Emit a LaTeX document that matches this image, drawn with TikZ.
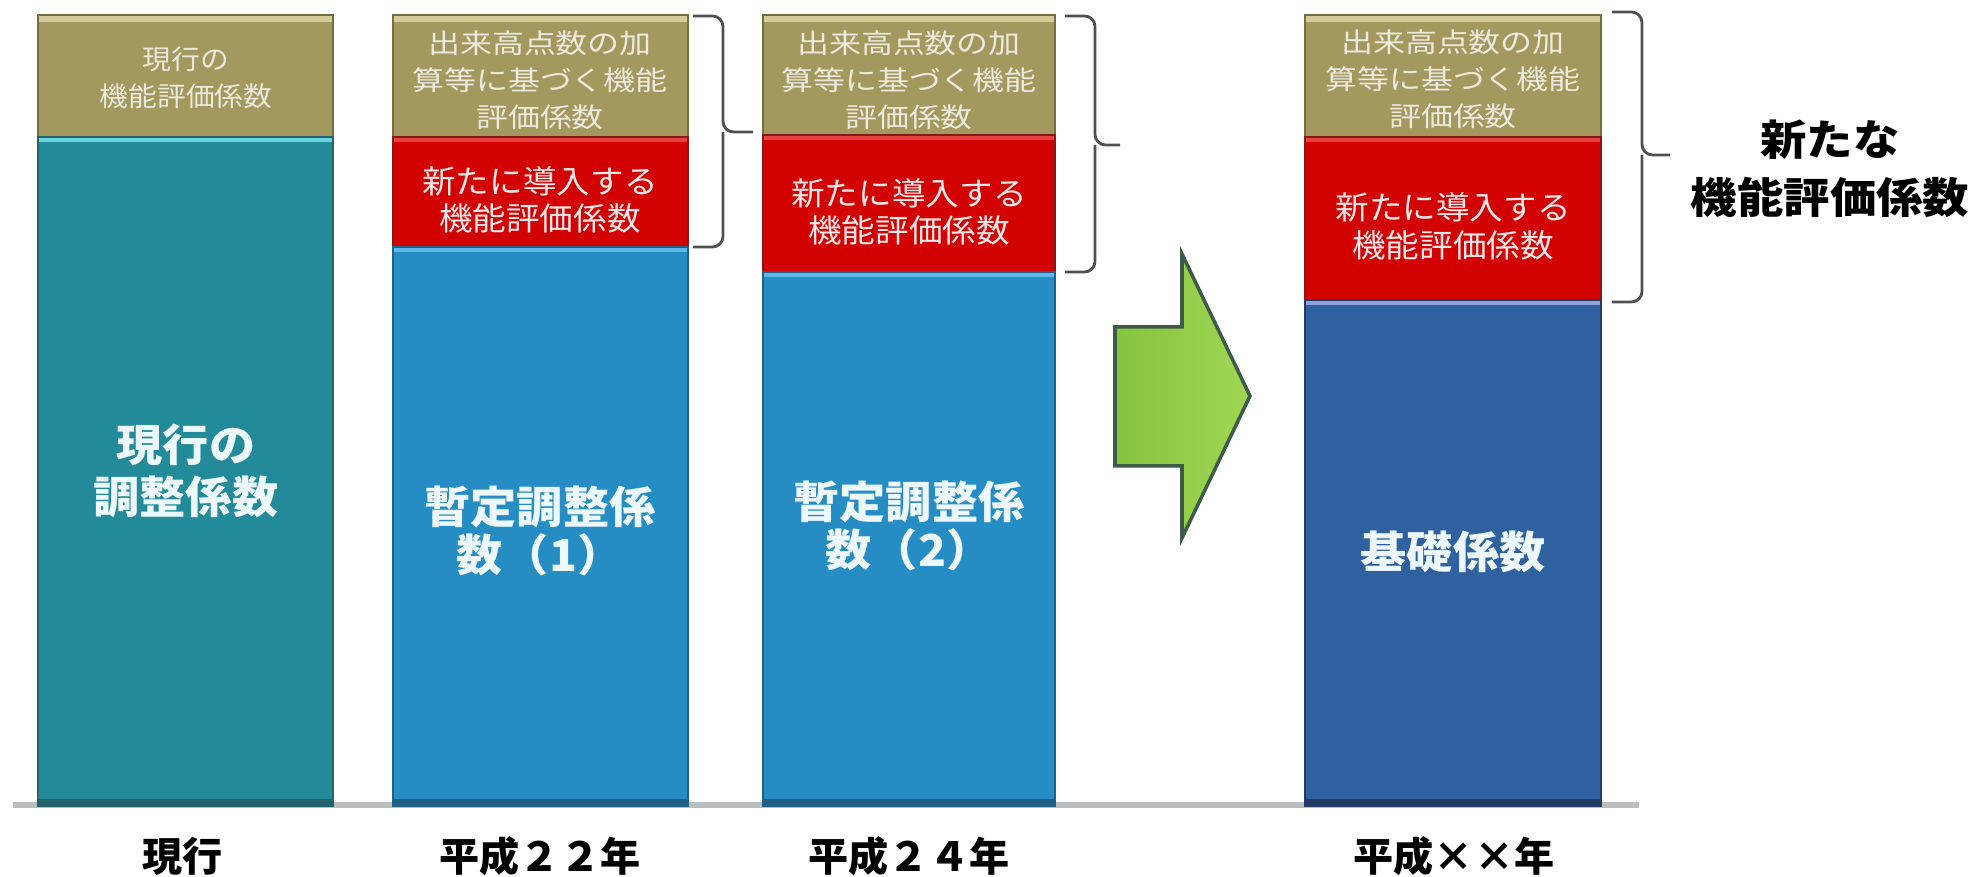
\documentclass[tikz,border=0pt]{standalone}
\usepackage{fontspec}
\setmainfont{Noto Sans CJK JP}
\usetikzlibrary{positioning}
\definecolor{goldbar}{RGB}{163,152,94}
\definecolor{goldtop}{RGB}{212,204,152}
\definecolor{golddark}{RGB}{120,110,68}
\definecolor{tealbar}{RGB}{34,138,152}
\definecolor{tealtop}{RGB}{104,212,222}
\definecolor{tealdark}{RGB}{36,98,108}
\definecolor{bluebar}{RGB}{38,140,196}
\definecolor{bluetop}{RGB}{96,184,232}
\definecolor{bluedark}{RGB}{34,96,136}
\definecolor{navybar}{RGB}{47,96,160}
\definecolor{navytop}{RGB}{146,162,222}
\definecolor{navydark}{RGB}{36,60,100}
\definecolor{redbar}{RGB}{210,2,2}
\definecolor{redtop}{RGB}{228,66,60}
\definecolor{reddark}{RGB}{138,22,28}
\definecolor{goldtext}{RGB}{236,233,222}
\definecolor{redtext}{RGB}{250,232,232}
\definecolor{bigtext}{RGB}{236,248,252}
\definecolor{arrowgreen}{RGB}{134,196,62}
\definecolor{arrowlight}{RGB}{160,214,84}
\definecolor{arrowedge}{RGB}{62,90,72}
\definecolor{basegray}{RGB}{186,190,192}
\definecolor{bracegray}{RGB}{80,80,80}

\begin{document}
\begin{tikzpicture}[x=0.01cm, y=-0.01cm,
  goldsec/.style={fill=goldbar, draw=golddark, line width=0.8pt},
  redsec/.style={fill=redbar, draw=reddark, line width=0.8pt},
  tealsec/.style={fill=tealbar, draw=tealdark, line width=0.8pt},
  bluesec/.style={fill=bluebar, draw=bluedark, line width=0.8pt},
  navysec/.style={fill=navybar, draw=navydark, line width=0.8pt},
  goldtxt/.style={font=\fontsize{7.7}{10.5}\selectfont, text=goldtext, align=center, inner sep=0pt, xscale=1.18},
  redtxt/.style={font=\fontsize{9.1}{10.6}\selectfont, text=redtext, align=center, inner sep=0pt, xscale=1.05},
  bigtxt/.style={font=\fontsize{12.5}{13.4}\selectfont\bfseries, text=bigtext, align=center, inner sep=0pt, xscale=1.05},
  yearlbl/.style={font=\fontsize{11.4}{13}\selectfont\bfseries, inner sep=0pt},
  bracket/.style={draw=bracegray, line width=0.8pt, rounded corners=3pt}]
  \useasboundingbox (0,0) rectangle (1974,877);
  \fill[basegray] (13,802) rectangle (1639,808);
  % current
  \filldraw[goldsec] (38,15) rectangle (333,137);
  \fill[goldtop] (39,16) rectangle (332,22);
  \filldraw[tealsec] (38,137) rectangle (333,806);
  \fill[tealtop] (39,138) rectangle (332,142);
  \fill[tealdark] (39,799) rectangle (332,806);
  \node[goldtxt, xscale=0.9] (curgold) at (186,78) {現行の\\機能評価係数};
  \node[bigtxt, font=\fontsize{12.5}{15}\selectfont\bfseries] (curadj) at (186,471) {現行の\\調整係数};
  % H22
  \filldraw[goldsec] (393,15) rectangle (688,137);
  \fill[goldtop] (394,16) rectangle (687,22);
  \filldraw[redsec] (393,137) rectangle (688,247);
  \fill[redtop] (394,138) rectangle (687,142);
  \filldraw[bluesec] (393,247) rectangle (688,806);
  \fill[bluetop] (394,248) rectangle (687,252);
  \fill[bluedark] (394,799) rectangle (687,806);
  \node[goldtxt] (hgold) at (540,80) {出来高点数の加\\算等に基づく機能\\評価係数};
  \node[redtxt] (hnew) at (540,200) {新たに導入する\\機能評価係数};
  \node[bigtxt] (htmp) at (540,531) {暫定調整係\\数（1）};
  \draw[bracket] (693,16) -| (723,132) -- (753,132);
  \draw[bracket] (723,132) |- (693,247);
  % H24
  \filldraw[goldsec] (763,15) rectangle (1055,135);
  \fill[goldtop] (764,16) rectangle (1054,22);
  \filldraw[redsec] (763,135) rectangle (1055,272);
  \fill[redtop] (764,136) rectangle (1054,140);
  \filldraw[bluesec] (763,272) rectangle (1055,806);
  \fill[bluetop] (764,273) rectangle (1054,277);
  \fill[bluedark] (764,799) rectangle (1054,806);
  \node[goldtxt] (kgold) at (909,80) {出来高点数の加\\算等に基づく機能\\評価係数};
  \node[redtxt] (knew) at (909,212) {新たに導入する\\機能評価係数};
  \node[bigtxt] (ktmp) at (909,526) {暫定調整係\\数（2）};
  \draw[bracket] (1065,16) -| (1095,145) -- (1120,145);
  \draw[bracket] (1095,145) |- (1065,272);
  % arrow
  \draw[left color=arrowgreen, right color=arrowlight, draw=arrowedge, line width=1pt]
    (1115,327) -- (1182,327) -- (1182,254) -- (1250,396) -- (1182,538) -- (1182,466) -- (1115,466) -- cycle;
  % future
  \filldraw[goldsec] (1305,15) rectangle (1601,137);
  \fill[goldtop] (1306,16) rectangle (1600,22);
  \filldraw[redsec] (1305,137) rectangle (1601,300);
  \fill[redtop] (1306,138) rectangle (1600,142);
  \filldraw[navysec] (1305,300) rectangle (1601,806);
  \fill[navytop] (1306,301) rectangle (1600,305);
  \fill[navydark] (1306,799) rectangle (1600,806);
  \node[goldtxt] (fgold) at (1453,79) {出来高点数の加\\算等に基づく機能\\評価係数};
  \node[redtxt, font=\fontsize{9.1}{10.8}\selectfont] (fnew) at (1453,226) {新たに導入する\\機能評価係数};
  \node[bigtxt] (fbase) at (1453,552) {基礎係数};
  \draw[bracket] (1612,12) -| (1642,155) -- (1670,155);
  \draw[bracket] (1642,155) |- (1612,302);
  \node[font=\fontsize{12}{16.5}\selectfont\bfseries, align=center, inner sep=0pt, xscale=1.1] (newcoef) at (1830,169) {新たな\\機能評価係数};
  % years
  \node[yearlbl] (ycur) at (183,856) {現行};
  \node[yearlbl] (y22) at (540,856) {平成２２年};
  \node[yearlbl] (y24) at (909,856) {平成２４年};
  \node[yearlbl] (yxx) at (1454,856) {平成××年};
\end{tikzpicture}
\end{document}
